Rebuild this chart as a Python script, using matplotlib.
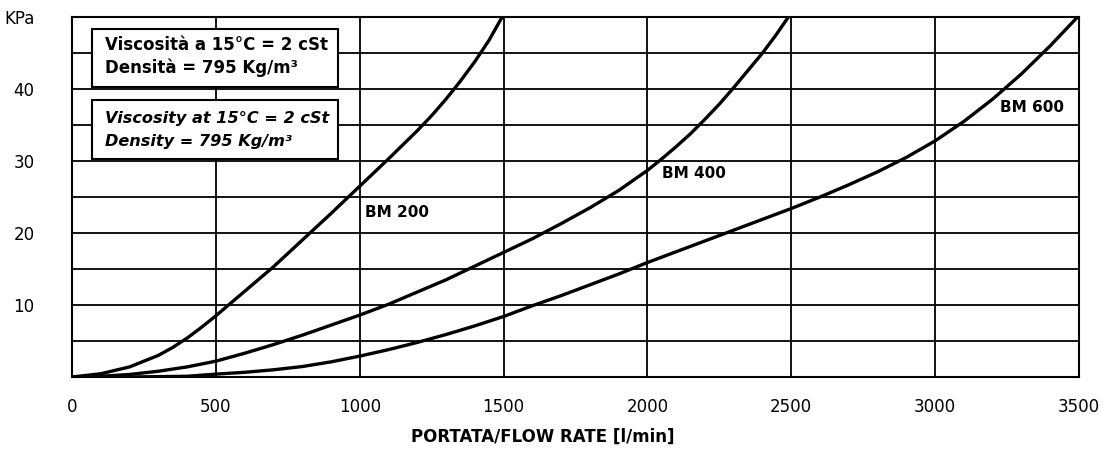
import matplotlib
matplotlib.use("Agg")
import matplotlib.pyplot as plt
from matplotlib.patches import Rectangle

plt.rcParams['font.family'] = ['DejaVu Sans']

# ---- data ----
bm200_x = [0, 100, 200, 300, 350, 400, 450, 500, 550, 600, 700, 800, 900, 1000, 1100, 1200, 1250, 1300,
           1350, 1400, 1450, 1495]
bm200_y = [0, 0.45, 1.4, 3.0, 4.1, 5.4, 6.9, 8.5, 10.2, 11.9, 15.3, 19.0, 22.7, 26.5, 30.3, 34.2, 36.3, 38.6,
           41.1, 43.8, 46.8, 50]

bm400_x = [0, 100, 200, 300, 400, 500, 600, 700, 800, 900, 1000, 1100, 1200, 1300, 1400, 1500, 1600, 1700,
           1800, 1900, 2000, 2050, 2100, 2150, 2200, 2250, 2300, 2350, 2400, 2445, 2490]
bm400_y = [0, 0.1, 0.35, 0.8, 1.4, 2.2, 3.3, 4.5, 5.8, 7.2, 8.6, 10.1, 11.8, 13.5, 15.4, 17.3, 19.2, 21.3,
           23.5, 25.9, 28.7, 30.3, 32.0, 33.8, 35.8, 37.9, 40.2, 42.6, 45.0, 47.4, 50]

bm600_x = [0, 200, 400, 500, 600, 700, 800, 900, 1000, 1100, 1200, 1300, 1400, 1500, 1600, 1700, 1800, 1900,
           2000, 2100, 2200, 2300, 2400, 2500, 2600, 2700, 2800, 2900, 3000, 3100, 3200, 3300, 3400, 3495]
bm600_y = [0, 0.0, 0.1, 0.4, 0.65, 1.0, 1.45, 2.1, 2.9, 3.8, 4.8, 5.9, 7.1, 8.4, 9.9, 11.3, 12.8, 14.3,
           15.9, 17.4, 18.9, 20.4, 21.9, 23.4, 25.0, 26.7, 28.5, 30.5, 32.8, 35.5, 38.6, 42.1, 46.0, 50]

x_ticks = [0, 500, 1000, 1500, 2000, 2500, 3000, 3500]
y_ticks = [0, 5, 10, 15, 20, 25, 30, 35, 40, 45, 50]
y_tick_labels = ['', '', '10', '', '20', '', '30', '', '40', '', 'KPa']

curve_names = ['BM 200', 'BM 400', 'BM 600']

# ---- figure ----
fig = plt.figure(figsize=(11.14, 4.50), dpi=100)
ax = fig.add_axes([72 / 1114, 73 / 450, (1079 - 72) / 1114, (377 - 17) / 450])

ax.set_xlim(0, 3500)
ax.set_ylim(0, 50)
ax.set_xticks(x_ticks)
ax.set_xticklabels([str(v) for v in x_ticks])
ax.set_yticks(y_ticks)
ax.set_yticklabels(y_tick_labels)
ax.tick_params(axis='both', length=0, labelsize=12, colors='black')
ax.tick_params(axis='x', pad=15)
ax.tick_params(axis='y', pad=27)
ax.grid(True, color='black', linewidth=1.3)
ax.set_axisbelow(True)
for s in ax.spines.values():
    s.set_linewidth(1.5)
    s.set_color('black')

for xs, ys in [(bm200_x, bm200_y), (bm400_x, bm400_y), (bm600_x, bm600_y)]:
    ax.plot(xs, ys, color='black', linewidth=2.4, solid_capstyle='round', solid_joinstyle='round', zorder=2)

ax.text(1020, 22.9, curve_names[0], fontsize=11, fontweight='bold', ha='left', va='center')
ax.text(2052, 28.3, curve_names[1], fontsize=11, fontweight='bold', ha='left', va='center')
ax.text(3227, 37.4, curve_names[2], fontsize=11, fontweight='bold', ha='left', va='center')

ax.set_xlabel('PORTATA/FLOW RATE [l/min]', fontsize=12, fontweight='bold')
ax.xaxis.set_label_coords(0.467, -0.142)

# info boxes
for (y0, y1) in [(0.806, 0.967), (0.606, 0.769)]:
    ax.add_patch(Rectangle((0.0199, y0), 0.244, y1 - y0, transform=ax.transAxes,
                           facecolor='white', edgecolor='black', linewidth=1.5, zorder=3))

ax.text(0.033, 0.922, 'Viscosità a 15°C = 2 cSt', transform=ax.transAxes, fontsize=12,
        fontweight='bold', ha='left', va='center', zorder=4)
ax.text(0.033, 0.858, 'Densità = 795 Kg/m³', transform=ax.transAxes, fontsize=12,
        fontweight='bold', ha='left', va='center', zorder=4)
ax.text(0.033, 0.719, 'Viscosity at 15°C = 2 cSt', transform=ax.transAxes, fontsize=11.6,
        fontweight='bold', style='italic', ha='left', va='center', zorder=4)
ax.text(0.033, 0.653, 'Density = 795 Kg/m³', transform=ax.transAxes, fontsize=11.6,
        fontweight='bold', style='italic', ha='left', va='center', zorder=4)

fig.savefig('out.png', dpi=100, facecolor='white')
